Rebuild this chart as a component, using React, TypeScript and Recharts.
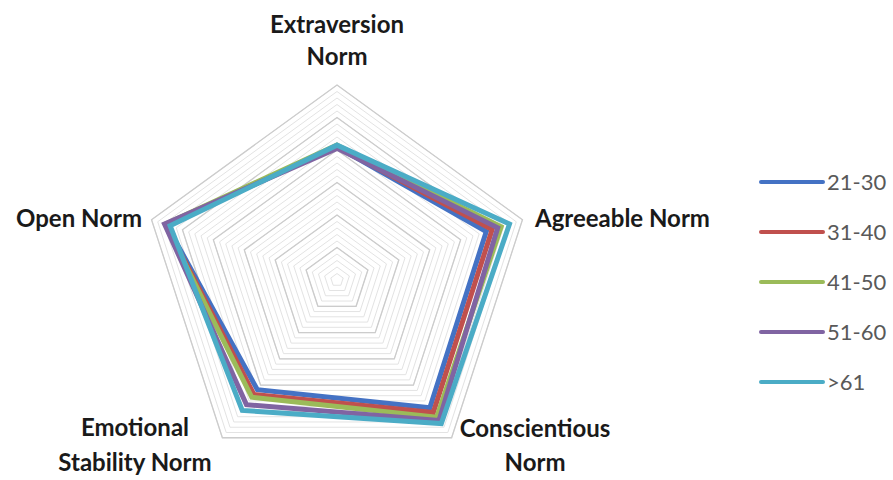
import React from 'react';
import { RadarChart, Radar, PolarGrid, PolarAngleAxis, PolarRadiusAxis, Legend } from 'recharts';

const traits = ['Extraversion Norm', 'Agreeable Norm', 'Conscientious Norm', 'Emotional Stability Norm', 'Open Norm'];
const g21to30 = [41, 48.3, 48.6, 41.7, 55.2];
const g31to40 = [41, 50.2, 50.4, 43.5, 55.4];
const g41to50 = [41.5, 53.1, 52.2, 44.6, 55.6];
const g51to60 = [40.5, 52, 53.4, 47.4, 55.8];
const g61plus = [41.5, 55.8, 54.6, 49.6, 54];

const series = [
  { key: 'g21', name: '21-30', color: '#4472C4', values: g21to30 },
  { key: 'g31', name: '31-40', color: '#C0504D', values: g31to40 },
  { key: 'g41', name: '41-50', color: '#9BBB59', values: g41to50 },
  { key: 'g51', name: '51-60', color: '#8064A2', values: g51to60 },
  { key: 'g61', name: '>61', color: '#4BACC6', values: g61plus },
];

const data = traits.map((t, i) => {
  const row: any = { trait: t };
  series.forEach((s) => (row[s.key] = s.values[i]));
  return row;
});

const CX = 337;
const CY = 280;
const R = 195;
const minorRadii = Array.from({ length: 31 }, (_, i) => (R * i) / 30);
const majorRadii = Array.from({ length: 7 }, (_, i) => (R * i) / 6);

// label lines and placement per axis
const labelLayout: Record<string, { lines: string[]; x: number; y: number; anchor: string; gap: number }> = {
  'Extraversion Norm': { lines: ['Extraversion', 'Norm'], x: 337, y: 33, anchor: 'middle', gap: 32 },
  'Agreeable Norm': { lines: ['Agreeable Norm'], x: 535, y: 227, anchor: 'start', gap: 0 },
  'Conscientious Norm': { lines: ['Conscientious', 'Norm'], x: 535, y: 437, anchor: 'middle', gap: 34 },
  'Emotional Stability Norm': { lines: ['Emotional', 'Stability Norm'], x: 135, y: 436, anchor: 'middle', gap: 35 },
  'Open Norm': { lines: ['Open Norm'], x: 142, y: 227, anchor: 'end', gap: 0 },
};

const font = 'Lato, "Open Sans", sans-serif';

const AngleTick = (props: any) => {
  const l = labelLayout[props.payload.value];
  if (!l) return null;
  return (
    <text x={l.x} y={l.y} textAnchor={l.anchor} fontFamily={font} fontWeight={700} fontSize={24} fill="#1a1a1a">
      {l.lines.map((ln, i) => (
        <tspan key={i} x={l.x} dy={i === 0 ? 0 : l.gap}>
          {ln}
        </tspan>
      ))}
    </text>
  );
};

const LegendBox = () => (
  <svg width={134} height={240} style={{ overflow: 'visible', display: 'block' }}>
    {series.map((s, i) => (
      <g key={s.key}>
        <line x1={4} x2={66} y1={10 + i * 50} y2={10 + i * 50} stroke={s.color} strokeWidth={4} strokeLinecap="round" />
        <text x={70} y={18 + i * 50} fontFamily={font} fontSize={22} fill="#595959">
          {s.name}
        </text>
      </g>
    ))}
  </svg>
);

export default function App() {
  return (
    <div style={{ position: 'absolute', left: 0, top: 0, background: '#fff' }}>
      <RadarChart width={893} height={480} data={data} cx={CX} cy={CY} outerRadius={R} startAngle={90} endAngle={-270}>
        <PolarGrid gridType="polygon" radialLines={false} polarRadius={minorRadii} stroke="#e3e3e3" strokeWidth={1} />
        <PolarGrid gridType="polygon" radialLines={false} polarRadius={majorRadii} stroke="#cccccc" strokeWidth={1.3} />
        <PolarAngleAxis dataKey="trait" tick={<AngleTick />} tickLine={false} axisLine={false} />
        <PolarRadiusAxis domain={[0, 60]} tick={false} axisLine={false} tickCount={7} />
        {series.map((s) => (
          <Radar
            key={s.key}
            dataKey={s.key}
            name={s.name}
            stroke={s.color}
            strokeWidth={5}
            strokeLinejoin="miter"
            fill="none"
            fillOpacity={0}
            dot={false}
            isAnimationActive={false}
          />
        ))}
        <Legend content={<LegendBox />} wrapperStyle={{ position: 'absolute', left: 757, top: 172, width: 134, height: 240 }} />
      </RadarChart>
    </div>
  );
}
